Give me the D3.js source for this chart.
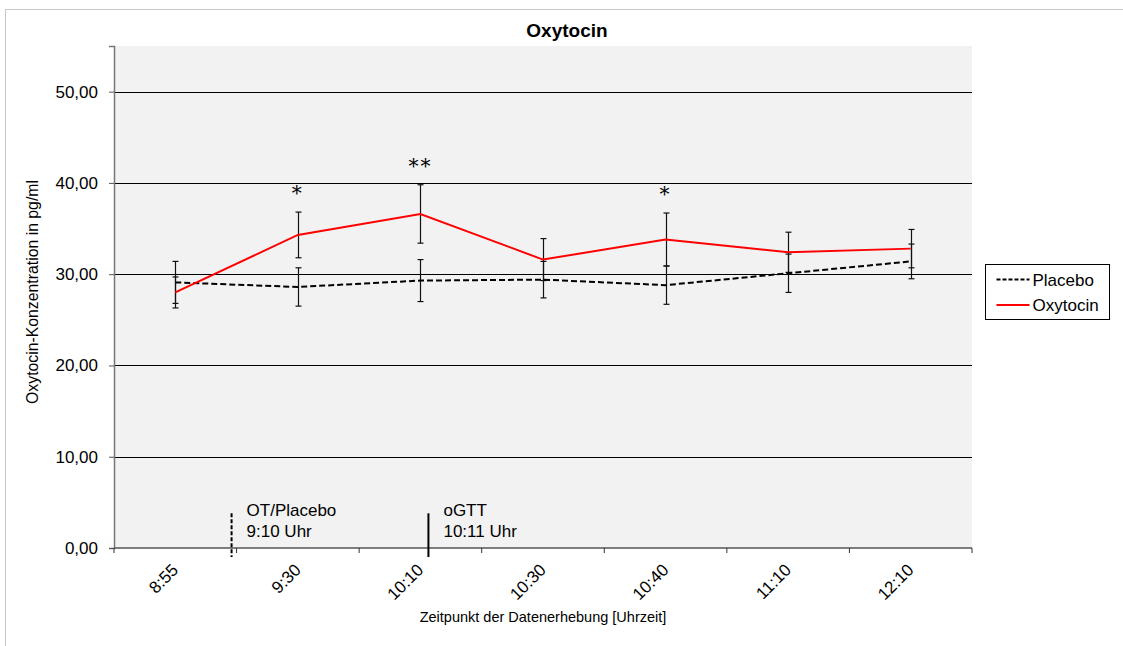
<!DOCTYPE html>
<html>
<head>
<meta charset="utf-8">
<script src="https://cdn.jsdelivr.net/npm/d3@7"></script>
<style>
  body { margin: 0; background: #fff; }
  text { font-family: "Liberation Sans", Arial, sans-serif; fill: #000; }
</style>
</head>
<body>
<script>
// Werte
const times = ["8:55", "9:30", "10:10", "10:30", "10:40", "11:10", "12:10"];
const placebo = [29.1, 28.6, 29.3, 29.4, 28.8, 30.1, 31.4];
const placeboErr = [2.3, 2.1, 2.3, 2.0, 2.1, 2.1, 1.9];
const oxytocin = [28.0, 34.3, 36.6, 31.6, 33.8, 32.4, 32.8];
const oxytocinErr = [1.7, 2.5, 3.2, 2.3, 2.9, 2.2, 2.1];
const stars = ["", "*", "**", "", "*", "", ""];
const yTicks = [0, 10, 20, 30, 40, 50];

let margin = null, width = null, height = null;
let svg = null, x = null, y = null;

setupCanvasSize();
appendSvg("body");
setupScales();
appendBackground();
appendGrid();
appendAxes();
appendMarkers();
appendErrorBars();
appendLines();
appendStars();
appendTitles();
appendLegend();

function setupCanvasSize() {
  margin = {top: 46, left: 114, bottom: 98, right: 151};
  width = 1123 - margin.left - margin.right;
  height = 646 - margin.top - margin.bottom;
}

function appendSvg(domElement) {
  const root = d3.select(domElement).append("svg")
    .attr("width", 1123)
    .attr("height", 646);
  root.append("rect")
    .attr("x", 5.5).attr("y", 9.5)
    .attr("width", 1130).attr("height", 650)
    .attr("fill", "#fff").attr("stroke", "#c8c8c8");
  svg = root.append("g")
    .attr("transform", `translate(${margin.left}, ${margin.top})`);
}

function setupScales() {
  x = d3.scaleBand().domain(times).range([0, width]);
  y = d3.scaleLinear().domain([0, 55]).range([height, 0]);
}

function appendBackground() {
  svg.append("rect")
    .attr("width", width).attr("height", height)
    .attr("fill", "#f2f2f2");
}

function appendGrid() {
  svg.append("g").selectAll("line")
    .data(yTicks.filter(d => d > 0))
    .enter().append("line")
      .attr("x1", 0).attr("x2", width)
      .attr("y1", d => Math.round(y(d)) + 0.5)
      .attr("y2", d => Math.round(y(d)) + 0.5)
      .attr("stroke", "#000").attr("stroke-width", 1);
}

function appendAxes() {
  const fmt = d => d3.format(".2f")(d).replace(".", ",");
  const ya = svg.append("g")
    .call(d3.axisLeft(y).tickValues(yTicks).tickFormat(fmt).tickSize(5).tickPadding(11));
  ya.select(".domain").attr("stroke", "#777").attr("stroke-width", 1.5);
  ya.selectAll(".tick line").attr("stroke", "#555");
  ya.selectAll("text").attr("font-size", 17);

  // x-Achse: Striche an den Kategoriegrenzen
  const xa = svg.append("g").attr("transform", `translate(0, ${height})`);
  xa.append("line").attr("x1", 0).attr("x2", width).attr("y1", 0).attr("y2", 0)
    .attr("stroke", "#555").attr("stroke-width", 1.5);
  const bounds = times.map(t => x(t)).concat([width]);
  xa.selectAll("line.tk").data(bounds).enter().append("line")
    .attr("class", "tk")
    .attr("x1", d => d).attr("x2", d => d).attr("y1", 0).attr("y2", 5)
    .attr("stroke", "#333");
  xa.selectAll("text").data(times).enter().append("text")
    .attr("transform", d => `translate(${x(d) + x.bandwidth() / 2 + 4}, 23) rotate(-45)`)
    .attr("text-anchor", "end")
    .attr("font-size", 17)
    .text(d => d);
}

function appendMarkers() {
  // Gabe OT/Placebo 9:10 Uhr (gestrichelt), oGTT 10:11 Uhr (durchgezogen)
  const markers = [
    {pos: x("9:30") - 5, dash: "4,2", lines: ["OT/Placebo", "9:10 Uhr"]},
    {pos: x("10:10") + x.bandwidth() / 2 + 8, dash: null, lines: ["oGTT", "10:11 Uhr"]}
  ];
  markers.forEach(m => {
    svg.append("line")
      .attr("x1", m.pos).attr("x2", m.pos)
      .attr("y1", y(3.8)).attr("y2", height + 9)
      .attr("stroke", "#000").attr("stroke-width", 2)
      .attr("stroke-dasharray", m.dash);
    m.lines.forEach((t, i) => {
      svg.append("text")
        .attr("x", m.pos + 15).attr("y", y(3.5) + i * 21)
        .attr("font-size", 17)
        .text(t);
    });
  });
}

function appendErrorBars() {
  const groups = [
    {v: placebo, e: placeboErr},
    {v: oxytocin, e: oxytocinErr}
  ];
  groups.forEach(g => {
    const eb = svg.append("g").selectAll("g")
      .data(times).enter().append("g")
      .attr("transform", d => `translate(${Math.round(x(d) + x.bandwidth() / 2) + 0.5}, 0)`);
    eb.append("line")
      .attr("y1", (d, i) => y(g.v[i] + g.e[i]))
      .attr("y2", (d, i) => y(g.v[i] - g.e[i]))
      .attr("stroke", "#111").attr("stroke-width", 1.2);
    [1, -1].forEach(s => {
      eb.append("line")
        .attr("x1", -3).attr("x2", 3)
        .attr("y1", (d, i) => y(g.v[i] + s * g.e[i]))
        .attr("y2", (d, i) => y(g.v[i] + s * g.e[i]))
        .attr("stroke", "#111").attr("stroke-width", 1.2);
    });
  });
}

function appendLines() {
  const line = vals => d3.line()
    .x((d, i) => x(times[i]) + x.bandwidth() / 2)
    .y(d => y(d))(vals);
  svg.append("path").attr("d", line(placebo))
    .attr("fill", "none").attr("stroke", "#000")
    .attr("stroke-width", 2).attr("stroke-dasharray", "6,3");
  svg.append("path").attr("d", line(oxytocin))
    .attr("fill", "none").attr("stroke", "#ff0000").attr("stroke-width", 2);
}

function appendStars() {
  svg.append("g").selectAll("text")
    .data(stars).enter().append("text")
    .attr("x", (d, i) => x(times[i]) + x.bandwidth() / 2)
    .attr("y", (d, i) => y(oxytocin[i] + oxytocinErr[i]) - 12)
    .attr("text-anchor", "middle")
    .attr("font-size", 20)
    .attr("letter-spacing", 2)
    .style("font-family", "DejaVu Serif, serif")
    .text(d => d);
}

function appendTitles() {
  svg.append("text")
    .attr("x", width / 2 + 24).attr("y", -9)
    .attr("text-anchor", "middle")
    .attr("font-size", 19).attr("font-weight", "bold")
    .text("Oxytocin");
  svg.append("text")
    .attr("x", width / 2).attr("y", height + 74)
    .attr("text-anchor", "middle")
    .attr("font-size", 14.5)
    .text("Zeitpunkt der Datenerhebung [Uhrzeit]");
  svg.append("text")
    .attr("transform", `translate(${-76}, ${246}) rotate(-90)`)
    .attr("text-anchor", "middle")
    .attr("font-size", 15.8)
    .text("Oxytocin-Konzentration in pg/ml");
}

function appendLegend() {
  const items = [
    {name: "Placebo", color: "#000", dash: "4,2"},
    {name: "Oxytocin", color: "#ff0000", dash: null}
  ];
  const lg = svg.append("g").attr("transform", `translate(${width + 13.5}, ${218.5})`);
  lg.append("rect").attr("width", 124).attr("height", 55)
    .attr("fill", "#fff").attr("stroke", "#000");
  const row = lg.selectAll("g").data(items).enter().append("g")
    .attr("transform", (d, i) => `translate(0, ${15 + i * 25.5})`);
  row.append("line").attr("x1", 11).attr("x2", 44).attr("y1", 0).attr("y2", 0)
    .attr("stroke", d => d.color).attr("stroke-width", 2)
    .attr("stroke-dasharray", d => d.dash);
  row.append("text").attr("x", 47).attr("y", 6)
    .attr("font-size", 17).text(d => d.name);
}
</script>
</body>
</html>
